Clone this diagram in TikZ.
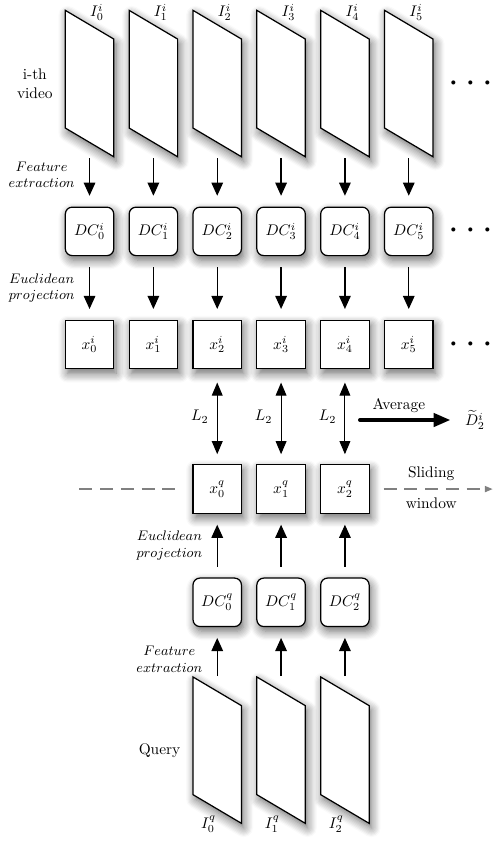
\documentclass[tikz,border=0pt]{standalone}
\usepackage{tikz}
\usetikzlibrary{positioning}
\usetikzlibrary{arrows.meta}
\usetikzlibrary{calc}
\usetikzlibrary{shadows.blur}

\begin{document}
\begin{tikzpicture}[ every node/.style = { align = center }
                   % Use triangle style arrows
                   , >={Triangle[width=7.5pt, length=8.5pt]}
                   , node distance = 41.3pt and 9.2pt
                   ]

  \useasboundingbox (0,0) rectangle (323pt,-546.65pt);

  %%
  %% Node types
  %%
  \tikzset{ soft/.style={blur shadow={shadow xshift=1.5pt, shadow yshift=-3pt, shadow blur radius=6pt, shadow blur steps=8, shadow opacity=60}}
          , vidframe/.style={draw, line width=0.8pt, fill=white, soft, minimum width=31.5pt, minimum height=76.5pt, inner sep=0pt, yslant=-0.592}
          , dcbox/.style={draw, line width=0.8pt, fill=white, soft, rounded corners=4.5pt, minimum size=31.5pt, inner sep=0pt}
          , xbox/.style={draw, line width=0.8pt, fill=white, soft, minimum size=31.5pt, inner sep=0pt}
          , dots/.style={inner sep=0pt, font=\fontsize{30}{30}\selectfont}
          , steplabel/.style={font=\small, left=6pt}
          }

  %%
  %% Arrow types
  %%
  \tikzset{ flow/.style={->, line width=0.8pt, shorten <=7pt, shorten >=7pt}
          , l2/.style={{Triangle[width=7pt, length=8.5pt]}-{Triangle[width=7pt, length=8.5pt]}, double, double distance=2.2pt, line width=0.7pt, shorten <=8.5pt, shorten >=6.5pt}
          , avg/.style={-{Triangle[width=8.5pt, length=11pt]}, line width=2.6pt, line cap=round, shorten >=6pt}
          , dashline/.style={gray, line width=0.8pt, dash pattern=on 8.5pt off 5pt}
          , window/.style={dashline, -{Triangle[width=4pt, length=5pt]}, shorten <=9pt}
          }

  %%
  %% Nodes
  %%

  %%% i-th video (frames sit above their descriptor boxes)
  \node (f0) [vidframe] at (58.2pt,-54.3pt) {};

  \node (dc0) [dcbox, below = of f0] {$DC^i_0$};
  \node (dc1) [dcbox, right = of dc0] {$DC^i_1$};
  \node (dc2) [dcbox, right = of dc1] {$DC^i_2$};
  \node (dc3) [dcbox, right = of dc2] {$DC^i_3$};
  \node (dc4) [dcbox, right = of dc3] {$DC^i_4$};
  \node (dc5) [dcbox, right = of dc4] {$DC^i_5$};
  \node (dcdots) [dots] at ($(dc5)+(40.3pt,0)$) {$\cdots$};

  \node (f1) [vidframe, above = of dc1] {};
  \node (f2) [vidframe, above = of dc2] {};
  \node (f3) [vidframe, above = of dc3] {};
  \node (f4) [vidframe, above = of dc4] {};
  \node (f5) [vidframe, above = of dc5] {};
  \node (fdots) [dots] at ($(f5)+(40.3pt,0)$) {$\cdots$};

  \node (if0) [anchor=west] at ($(f0.north west)+(13pt,-2pt)$) {$I^i_0$};
  \node (if1) [anchor=west] at ($(f1.north west)+(13pt,-2pt)$) {$I^i_1$};
  \node (if2) [anchor=west] at ($(f2.north west)+(13pt,-2pt)$) {$I^i_2$};
  \node (if3) [anchor=west] at ($(f3.north west)+(13pt,-2pt)$) {$I^i_3$};
  \node (if4) [anchor=west] at ($(f4.north west)+(13pt,-2pt)$) {$I^i_4$};
  \node (if5) [anchor=west] at ($(f5.north west)+(13pt,-2pt)$) {$I^i_5$};

  \node (vid) [left = 20.5pt of f0.center] {i-th\\video};

  \node (x0) [xbox, below = of dc0] {$x^i_0$};
  \node (x1) [xbox, right = of x0] {$x^i_1$};
  \node (x2) [xbox, right = of x1] {$x^i_2$};
  \node (x3) [xbox, right = of x2] {$x^i_3$};
  \node (x4) [xbox, right = of x3] {$x^i_4$};
  \node (x5) [xbox, right = of x4] {$x^i_5$};
  \node (xdots) [dots] at ($(x5)+(40.3pt,0)$) {$\cdots$};

  %%% Query
  \node (xq0) [xbox, below = 61.6pt of x2] {$x^q_0$};
  \node (xq1) [xbox, right = of xq0] {$x^q_1$};
  \node (xq2) [xbox, right = of xq1] {$x^q_2$};

  \node (dcq0) [dcbox, below = of xq0] {$DC^q_0$};
  \node (dcq1) [dcbox, right = of dcq0] {$DC^q_1$};
  \node (dcq2) [dcbox, right = of dcq1] {$DC^q_2$};

  \node (q0) [vidframe, below = of dcq0] {};
  \node (q1) [vidframe, below = of dcq1] {};
  \node (q2) [vidframe, below = of dcq2] {};

  \node (iq0) [anchor=east] at ($(q0.south east)+(-13.5pt,0)$) {$I^q_0$};
  \node (iq1) [anchor=east] at ($(q1.south east)+(-13.5pt,0)$) {$I^q_1$};
  \node (iq2) [anchor=east] at ($(q2.south east)+(-13.5pt,0)$) {$I^q_2$};

  \node (query) [left = 20.5pt of q0.center] {Query};

  %%% Distance
  \node (dtil) at (308.75pt,-273pt) {$\widetilde{D}^i_2$};
  \coordinate (avgstart) at (234pt,-273pt);
  \coordinate (swstart) at ($(xq0)-(89.7pt,0)$);
  \coordinate (swend) at ($(xq2)+(96pt,0)$);

  %%
  %% Relationships between nodes
  %%

  %%% Feature extraction
  \path[flow, shorten <=10pt] (f0) edge node[steplabel] {$Feature$\\$extraction$} (dc0);
  \path[flow, shorten <=10pt] (f1) edge (dc1);
  \path[flow, shorten <=10pt] (f2) edge (dc2);
  \path[flow, shorten <=10pt] (f3) edge (dc3);
  \path[flow, shorten <=10pt] (f4) edge (dc4);
  \path[flow, shorten <=10pt] (f5) edge (dc5);

  %%% Euclidean projection
  \path[flow] (dc0) edge node[steplabel] {$Euclidean$\\$projection$} (x0);
  \path[flow] (dc1) edge (x1);
  \path[flow] (dc2) edge (x2);
  \path[flow] (dc3) edge (x3);
  \path[flow] (dc4) edge (x4);
  \path[flow] (dc5) edge (x5);

  %%% Query side
  \path[flow, shorten <=9.4pt] (q0) edge node[steplabel] {$Feature$\\$extraction$} (dcq0);
  \path[flow, shorten <=9.4pt] (q1) edge (dcq1);
  \path[flow, shorten <=9.4pt] (q2) edge (dcq2);

  \path[flow] (dcq0) edge node[steplabel] {$Euclidean$\\$projection$} (xq0);
  \path[flow] (dcq1) edge (xq1);
  \path[flow] (dcq2) edge (xq2);

  %%% L2 distances
  \path[l2] (x2) edge node[left=2pt] {$L_2$} (xq0);
  \path[l2] (x3) edge node[left=2pt] {$L_2$} (xq1);
  \path[l2] (x4) edge node[left=2pt] {$L_2$} (xq2);

  \draw[avg] (avgstart) -- node[above, pos=0.39] {Average} (dtil);

  %%% Sliding window
  \draw[dashline, shorten >=8.5pt] (swstart) -- (xq0);
  \draw[window] (xq2) -- node[above=2pt, text=black] {Sliding} node[below=2pt, text=black] {window} (swend);

\end{tikzpicture}
\end{document}
